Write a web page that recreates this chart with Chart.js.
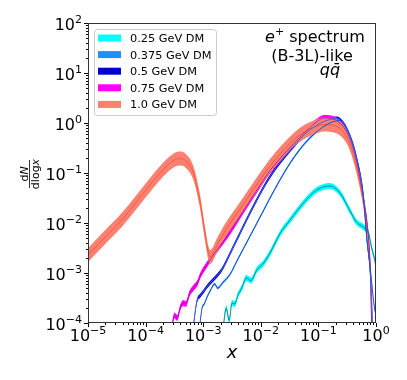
<!DOCTYPE html>
<html>
<head>
<meta charset="utf-8">
<script src="https://cdn.jsdelivr.net/npm/chart.js@4.4.0/dist/chart.umd.min.js"></script>
<style>
  html, body { margin: 0; padding: 0; background: #fff; }
</style>
</head>
<body>
<canvas id="chart" width="407" height="380"></canvas>
<script>
// DATA (log10 of x and of dN/dlogx)
const seriesNames = ['0.25 GeV DM', '0.375 GeV DM', '0.5 GeV DM', '0.75 GeV DM', '1.0 GeV DM'];

const logX_025 = [-2.65, -2.6, -2.55, -2.5, -2.45, -2.4, -2.33, -2.25, -2.17, -2.07, -1.95, -1.84, -1.66, -1.49, -1.26, -1.03, -0.8, -0.625, -0.45, -0.34, -0.22, -0.13, -0.075, -0.03, 0.0];
const logY_025 = [-4.05, -3.7, -3.95, -3.6, -3.62, -3.45, -3.3, -3.1, -3.15, -2.94, -2.8, -2.6, -2.2, -1.94, -1.6, -1.34, -1.26, -1.4, -1.76, -1.98, -2.08, -2.2, -2.5, -2.7, -2.87];

const logX_0375 = [-3.06, -3.02, -2.98, -2.94, -2.88, -2.8, -2.75, -2.65, -2.53, -2.42, -2.19, -1.93, -1.84, -1.49, -1.15, -0.8, -0.62, -0.45, -0.34, -0.22, -0.16, -0.1, -0.03, 0.0];
const logY_0375 = [-4.05, -3.7, -3.62, -3.5, -3.36, -3.22, -3.3, -3.18, -3.02, -2.77, -2.27, -1.7, -1.5, -0.8, -0.3, 0.0, 0.05, -0.25, -0.67, -1.45, -2.3, -2.9, -3.67, -3.85];

const logX_05 = [-3.17, -3.11, -3.05, -3.0, -2.94, -2.88, -2.78, -2.68, -2.53, -2.36, -2.1, -1.84, -1.49, -1.15, -0.9, -0.68, -0.5, -0.36, -0.22, -0.16, -0.1, -0.06, -0.04];
const logY_05 = [-4.05, -3.57, -3.45, -3.38, -3.28, -3.2, -3.08, -2.94, -2.6, -2.2, -1.6, -1.07, -0.54, -0.14, 0.03, 0.09, -0.15, -0.62, -1.45, -2.3, -3.0, -4.0, -5.0];

const logX_075 = [-3.54, -3.5, -3.45, -3.4, -3.35, -3.3, -3.24, -3.17, -3.1, -3.05, -2.94, -2.8, -2.53, -2.36, -2.0, -1.84, -1.5, -1.2, -1.0, -0.9, -0.7, -0.55, -0.45, -0.34, -0.22, -0.13, -0.1, -0.075, -0.05];
const logY_075 = [-4.05, -3.85, -3.9, -3.7, -3.6, -3.62, -3.42, -3.3, -3.2, -3.05, -2.84, -2.6, -2.17, -1.86, -1.22, -0.95, -0.5, -0.15, 0.05, 0.1, 0.06, -0.1, -0.32, -0.75, -1.5, -2.3, -2.9, -4.0, -5.0];

const logX_10 = [-5.0, -4.7, -4.4, -4.0, -3.7, -3.5, -3.4, -3.3, -3.17, -3.06, -2.97, -2.91, -2.88, -2.75, -2.6, -2.36, -2.1, -1.84, -1.5, -1.3, -1.1, -0.9, -0.7, -0.55, -0.45, -0.34, -0.22, -0.13, -0.1, -0.075, -0.05];
const logY_10 = [-2.64, -2.28, -1.92, -1.35, -0.94, -0.74, -0.71, -0.76, -1.0, -1.54, -2.2, -2.6, -2.68, -2.42, -2.12, -1.72, -1.28, -0.86, -0.42, -0.22, -0.1, -0.03, -0.06, -0.2, -0.42, -0.86, -1.55, -2.34, -2.9, -4.0, -5.0];

// half width of each uncertainty band, in decades
const bandDex = [0.06, 0.025, 0.04, 0.06, 0.14];

const xDecades = [-5, -4, -3, -2, -1, 0];
const yDecades = [-4, -3, -2, -1, 0, 1, 2];

const allX = [logX_025, logX_0375, logX_05, logX_075, logX_10];
const allY = [logY_025, logY_0375, logY_05, logY_075, logY_10];
const bandColors = ['#00FFFF', '#1E90FF', '#0000CD', '#FF00FF', '#FA8072'];
const lineColors = ['rgba(0,110,110,0.75)', '#1f4fd6', '#3f63e6', 'rgba(160,0,170,0.7)', '#ff5a3a'];

function pts(lx, ly, shift) {
    return lx.map((v, i) => ({ x: Math.pow(10, v), y: Math.pow(10, ly[i] + shift) }));
}

var datasets = [];
for (let i = 0; i < 5; i++) {
    // band: upper edge filled down to the lower edge
    datasets.push({
        data: pts(allX[i], allY[i], bandDex[i]),
        borderWidth: 0, pointRadius: 0, borderColor: bandColors[i],
        backgroundColor: bandColors[i], fill: '+1', order: 5 - i + 1,
        cubicInterpolationMode: 'monotone'
    });
    datasets.push({
        data: pts(allX[i], allY[i], -bandDex[i]),
        borderWidth: 0, pointRadius: 0, borderColor: bandColors[i],
        fill: false, order: 5 - i + 1,
        cubicInterpolationMode: 'monotone'
    });
}
for (let i = 0; i < 5; i++) {
    datasets.push({
        data: pts(allX[i], allY[i], 0),
        borderWidth: 1, pointRadius: 0, borderColor: lineColors[i],
        fill: false, order: 0,
        cubicInterpolationMode: 'monotone'
    });
}

const FONT = "'DejaVu Sans', sans-serif";

// draw a row of text pieces (different fonts / raised pieces)
function drawRuns(ctx, runs, x, y, align) {
    let total = 0;
    runs.forEach(r => { ctx.font = r.font; r.w = ctx.measureText(r.t).width; total += r.w; });
    let cx = align == 'center' ? x - total / 2 : (align == 'right' ? x - total : x);
    ctx.textAlign = 'left';
    ctx.textBaseline = 'alphabetic';
    runs.forEach(r => {
        ctx.font = r.font;
        ctx.fillText(r.t, cx, y + (r.dy || 0));
        cx += r.w;
    });
}

function powRuns(e) {
    return [
        { t: '10', font: '16px ' + FONT },
        { t: e < 0 ? '\u2212' + (-e) : String(e), font: '11px ' + FONT, dy: -7 }
    ];
}

const decor = {
    id: 'decor',
    afterDraw(chart) {
        const ctx = chart.ctx;
        const a = chart.chartArea;
        const xs = chart.scales.x, ys = chart.scales.y;
        ctx.save();
        ctx.fillStyle = '#000';

        // frame
        ctx.lineWidth = 1;
        ctx.strokeStyle = '#333';
        ctx.strokeRect(a.left + 0.5, a.top + 0.5, a.right - a.left - 1, a.bottom - a.top - 1);

        // ticks
        ctx.strokeStyle = '#000';
        ctx.beginPath();
        xDecades.forEach(e => {
            const px = Math.round(xs.getPixelForValue(Math.pow(10, e))) + 0.5;
            ctx.moveTo(px, a.bottom); ctx.lineTo(px, a.bottom + 4);
            if (e < 0) for (let m = 2; m < 10; m++) {
                const p = Math.round(xs.getPixelForValue(m * Math.pow(10, e))) + 0.5;
                ctx.moveTo(p, a.bottom); ctx.lineTo(p, a.bottom + 2);
            }
        });
        yDecades.forEach(e => {
            const py = Math.round(ys.getPixelForValue(Math.pow(10, e))) + 0.5;
            ctx.moveTo(a.left, py); ctx.lineTo(a.left - 4, py);
            if (e < 2) for (let m = 2; m < 10; m++) {
                const p = Math.round(ys.getPixelForValue(m * Math.pow(10, e))) + 0.5;
                ctx.moveTo(a.left, p); ctx.lineTo(a.left - 2, p);
            }
        });
        ctx.stroke();

        // tick labels
        xDecades.forEach(e => {
            drawRuns(ctx, powRuns(e), xs.getPixelForValue(Math.pow(10, e)), a.bottom + 18, 'center');
        });
        yDecades.forEach(e => {
            drawRuns(ctx, powRuns(e), a.left - 6, ys.getPixelForValue(Math.pow(10, e)) + 7, 'right');
        });

        // x title
        drawRuns(ctx, [{ t: 'x', font: 'italic 18px ' + FONT }], (a.left + a.right) / 2, 358, 'center');

        // y title dN / dlogx
        ctx.save();
        ctx.translate(29.5, 174);
        ctx.rotate(-Math.PI / 2);
        drawRuns(ctx, [{ t: 'd', font: '11px ' + FONT }, { t: 'N', font: 'italic 11px ' + FONT }], 0, -2, 'center');
        drawRuns(ctx, [{ t: 'dlog', font: '11px ' + FONT }, { t: 'x', font: 'italic 11px ' + FONT }], 0, 9, 'center');
        ctx.lineWidth = 0.8;
        ctx.beginPath(); ctx.moveTo(-14, 0); ctx.lineTo(14, 0); ctx.stroke();
        ctx.restore();

        // annotation
        drawRuns(ctx, [{ t: 'e', font: 'italic 16px ' + FONT }, { t: '+', font: '11px ' + FONT, dy: -7 }, { t: ' spectrum', font: '16px ' + FONT }], 315, 42, 'center');
        drawRuns(ctx, [{ t: '(B-3L)-like', font: '16px ' + FONT }], 312, 61, 'center');
        drawRuns(ctx, [{ t: 'qq\u0304', font: 'italic 16px ' + FONT }], 330, 75, 'center');

        // legend
        ctx.fillStyle = 'rgba(255,255,255,0.85)';
        ctx.strokeStyle = '#cccccc';
        ctx.lineWidth = 1;
        ctx.beginPath();
        ctx.roundRect(94.5, 29.5, 122, 86, 3);
        ctx.fill(); ctx.stroke();
        seriesNames.forEach((name, i) => {
            const cy = 38 + i * 16.6;
            ctx.fillStyle = bandColors[i];
            ctx.fillRect(98, cy - 3.5, 23, 7);
            ctx.fillStyle = '#000';
            drawRuns(ctx, [{ t: name, font: '11.3px ' + FONT }], 130, cy + 4, 'left');
        });
        ctx.restore();
    }
};

var ctx = document.getElementById('chart').getContext('2d');
var myChart = new Chart(ctx, {
    type: 'line',
    data: { datasets: datasets },
    options: {
        responsive: false,
        animation: false,
        events: [],
        layout: { padding: { top: 23, right: 31, left: 0, bottom: 0 } },
        scales: {
            x: {
                type: 'logarithmic', min: 1e-5, max: 1,
                ticks: { display: false },
                grid: { display: false },
                border: { display: false },
                afterFit: s => { s.height = 57; }
            },
            y: {
                type: 'logarithmic', min: 1e-4, max: 100,
                ticks: { display: false },
                grid: { display: false },
                border: { display: false },
                afterFit: s => { s.width = 88; }
            }
        },
        plugins: {
            legend: { display: false },
            tooltip: { enabled: false }
        }
    },
    plugins: [decor]
});
</script>
</body>
</html>
